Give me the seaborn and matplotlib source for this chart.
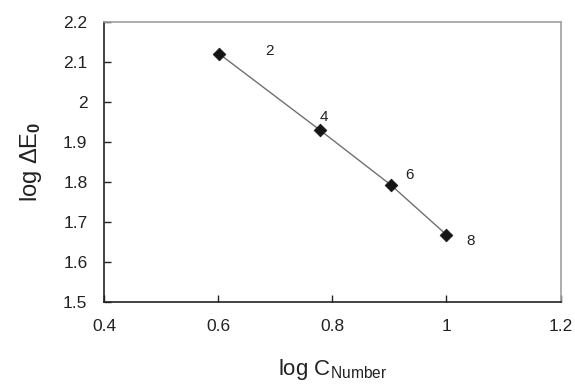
import matplotlib
matplotlib.use("Agg")
import matplotlib.pyplot as plt
import pandas as pd
import seaborn as sns

# data
carbon_number = [2, 4, 6, 8]
log_c = [0.602, 0.778, 0.903, 1.0]
log_de0 = [2.12, 1.93, 1.792, 1.668]
label_x = [0.69, 0.786, 0.936, 1.043]
label_y = [2.127, 1.962, 1.818, 1.652]

x_ticks = [0.4, 0.6, 0.8, 1.0, 1.2]
x_tick_labels = ["0.4", "0.6", "0.8", "1", "1.2"]
y_ticks = [1.5, 1.6, 1.7, 1.8, 1.9, 2.0, 2.1, 2.2]
y_tick_labels = ["1.5", "1.6", "1.7", "1.8", "1.9", "2", "2.1", "2.2"]

sns.set_style("white")
plt.rcParams["font.family"] = ["Liberation Sans", "DejaVu Sans"]
plt.rcParams["mathtext.fontset"] = "custom"
plt.rcParams["mathtext.rm"] = "Liberation Sans"
plt.rcParams["mathtext.it"] = "Liberation Sans"
plt.rcParams["mathtext.bf"] = "Liberation Sans:bold"

df = pd.DataFrame({"log_c": log_c, "log_de0": log_de0})

fig = plt.figure(figsize=(5.75, 3.85), dpi=100)
ax = fig.add_axes([0.181, 0.2155, 0.794, 0.7275])

sns.lineplot(data=df, x="log_c", y="log_de0", ax=ax, color="#707070",
             linewidth=1.0, zorder=2)
sns.scatterplot(data=df, x="log_c", y="log_de0", ax=ax, marker="D",
                color="#151515", s=42, edgecolor="#151515", zorder=3)

for lbl, tx, ty in zip(carbon_number, label_x, label_y):
    ax.text(tx, ty, str(lbl), fontsize=11, ha="center", va="center", color="#222222")

ax.set_xlim(0.4, 1.2)
ax.set_ylim(1.5, 2.2)
ax.set_xticks(x_ticks)
ax.set_xticklabels(x_tick_labels)
ax.set_yticks(y_ticks)
ax.set_yticklabels(y_tick_labels)
ax.tick_params(axis="both", direction="in", length=5, width=1, color="#222222",
               labelsize=12.5, labelcolor="#222222", left=True, bottom=True)
ax.tick_params(axis="x", pad=12)
ax.tick_params(axis="y", pad=12)

for side in ["left", "bottom"]:
    ax.spines[side].set_color("#222222")
    ax.spines[side].set_linewidth(1.2)
for side in ["top", "right"]:
    ax.spines[side].set_color("#a0a0a0")
    ax.spines[side].set_linewidth(1.2)

ax.set_xlabel(r"log C$_{\mathregular{Number}}$", fontsize=16, labelpad=17, color="#222222")
ax.set_ylabel(r"log $\Delta$E$_{\mathbf{0}}$", fontsize=17, labelpad=14, color="#222222")

fig.savefig("out.png", dpi=100)
